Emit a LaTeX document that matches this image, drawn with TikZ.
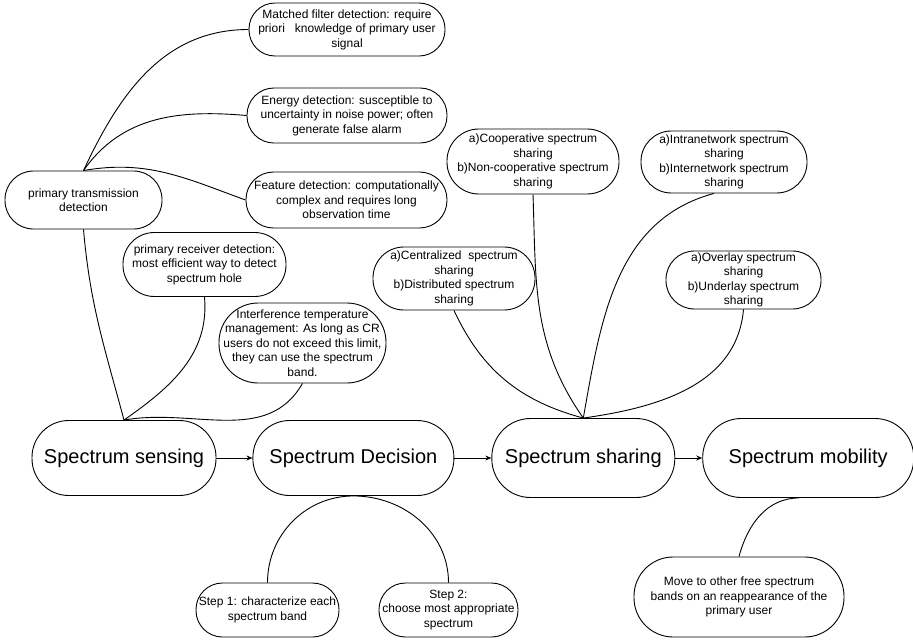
\documentclass[tikz,border=0pt]{standalone}
\usepackage{fontspec}
\setmainfont{Liberation Sans}
\usetikzlibrary{arrows.meta,positioning}

\begin{document}
\begin{tikzpicture}[x=1pt,y=1pt,line width=0.9pt,
    every node/.style={draw,align=center,inner sep=0pt,font=\fontsize{12}{14.5}\selectfont},
    pill/.style args={#1 by #2}{minimum width=#1pt,minimum height=#2pt,rounded corners=#2*0.49pt},
    stage/.style={font=\fontsize{20}{24}\selectfont},
    flow/.style={-{Stealth[length=6pt,width=5pt]}}]
    \useasboundingbox (0,0) rectangle (913,-640);

    % the four stages
    \node [stage,pill=184 by 75] (sens) at (124,-458) {Spectrum sensing};
    \node [stage,pill=201 by 75,right=36pt of sens] (dec) {Spectrum Decision};
    \node [stage,pill=183 by 79,right=37pt of dec] (shr) {Spectrum sharing};
    \node [stage,pill=211 by 79,right=27pt of shr] (mob) {Spectrum mobility};
    \draw [flow] (sens) -- (dec); \draw [flow] (dec) -- (shr); \draw [flow] (shr) -- (mob);

    % sensing
    \node [pill=157 by 58] (ptd) at (83.5,-200) {primary transmission\\detection};
    \node [pill=196 by 53] (mfd) at (347,-29.5) {Matched filter detection: require\\priori\ \ \ knowledge of primary user\\signal};
    \node [pill=200 by 55] (ed) at (347,-115.5) {Energy detection: susceptible to\\uncertainty in noise power; often\\generate false alarm};
    \node [pill=201 by 56] (fd) at (346.5,-200) {Feature detection: computationally\\complex and requires long\\observation time};
    \node [pill=163 by 64] (prd) at (204.5,-264.5) {primary receiver detection:\\most efficient way to detect\\spectrum hole};
    \node [pill=167 by 80] (itm) at (302.5,-343) {Interference temperature\\management: As long as CR\\users do not exceed this limit,\\they can use the spectrum\\band.};

    \path (ptd.north) edge [out=65,in=180] (mfd.west) edge [out=55,in=175] (ed.west)
    edge [out=10,in=160] (fd.west);
    \path (sens.north) edge [out=105,in=-85] (ptd.south) edge [out=35,in=-85] (prd.south)
    edge [out=10,in=-120] (itm.south);

    % decision
    \node [pill=143 by 54] (st1) at (267.5,-610) {Step 1: characterize each\\spectrum band};
    \node [pill=139 by 54] (st2) at (448.5,-610) {Step 2:\\choose most appropriate\\spectrum};
    \path (dec.south) edge [out=180,in=90] (st1.north) edge [out=0,in=90] (st2.north);

    % sharing
    \node [pill=172 by 65] (coop) at (533,-161.5) {a)Cooperative spectrum\\sharing\\b)Non-cooperative spectrum\\sharing};
    \node [pill=166 by 62] (intra) at (724,-162) {a)Intranetwork spectrum\\sharing\\b)Internetwork spectrum\\sharing};
    \node [pill=162 by 63] (cent) at (454,-278.5) {a)Centralized\ \ spectrum\\sharing\\b)Distributed spectrum\\sharing};
    \node [pill=155 by 58] (over) at (743.5,-280) {a)Overlay spectrum\\sharing\\b)Underlay spectrum\\sharing};
    \path (shr.north) edge [out=125,in=-88] (coop.south) edge [out=80,in=195] ([xshift=-10pt]intra.south)
    edge [out=165,in=-65] (cent.south) edge [out=8,in=-95] (over.south);

    % mobility
    \node [pill=210 by 80] (mov) at (739,-597) {Move to other free spectrum\\bands on an reappearance of the\\primary user};
    \path (mov.north) edge [out=75,in=180] ([xshift=-9pt]mob.south);
\end{tikzpicture}
\end{document}
